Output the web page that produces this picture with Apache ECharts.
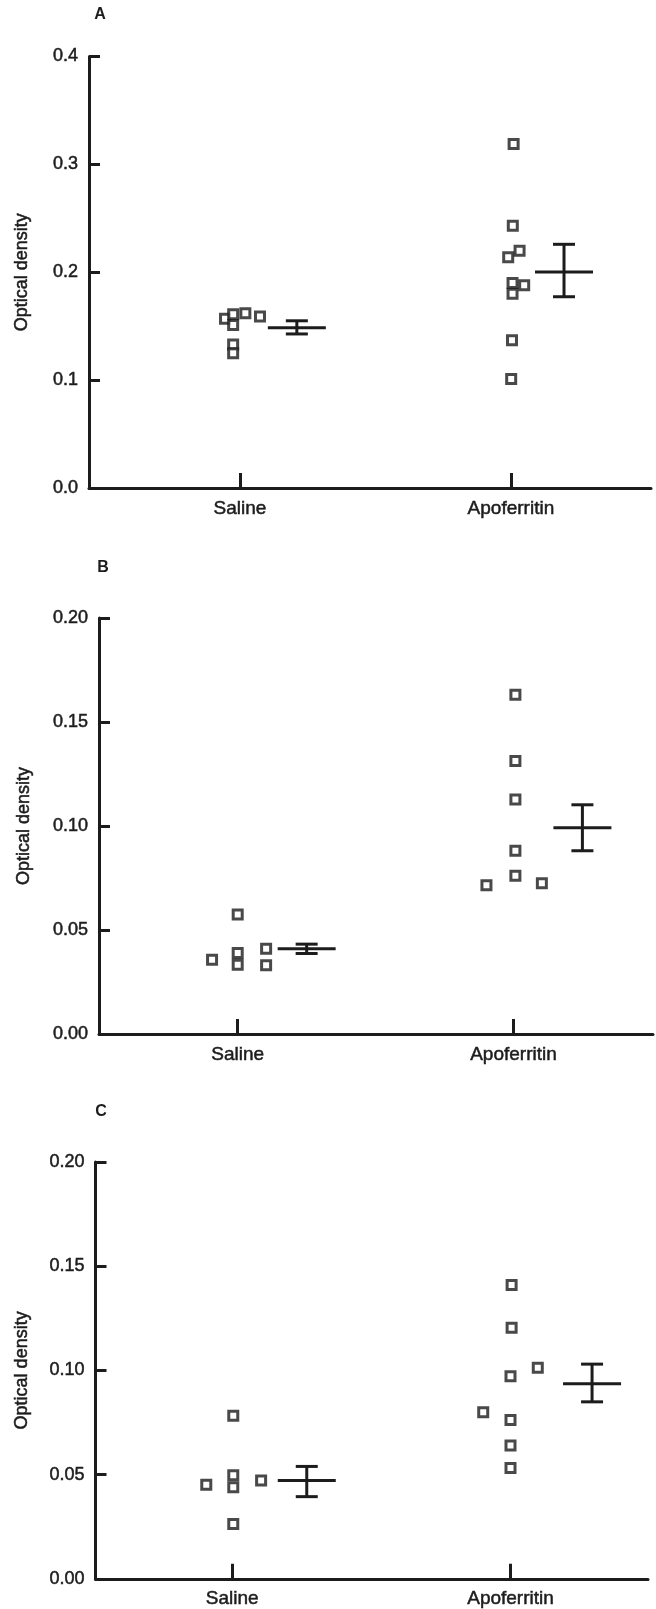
<!DOCTYPE html>
<html>
<head>
<meta charset="utf-8">
<script src="https://cdn.jsdelivr.net/npm/echarts@6/dist/echarts.min.js"></script>
<style>
html,body{margin:0;padding:0;background:#fff;}
#chart{width:656px;height:1609px;}
</style>
</head>
<body>
<div id="chart"></div>
<script>
// ---- data ----
const categories = ['Saline', 'Apoferritin'];   // placed at x = 1 and x = 2
const panelLetters = ['A', 'B', 'C'];
const yTicksA = [0.0, 0.1, 0.2, 0.3, 0.4];
const yTicksBC = [0.00, 0.05, 0.10, 0.15, 0.20];

// individual observations: [category position + jitter, optical density]
const salineA = [[0.945,0.157],[0.975,0.161],[1.020,0.162],[1.074,0.159],[0.975,0.151],[0.975,0.133],[0.975,0.125]];
const apoA = [[2.010,0.319],[2.007,0.243],[2.032,0.220],[1.990,0.214],[2.006,0.190],[2.049,0.188],[2.006,0.180],[2.004,0.137],[2.001,0.101]];
// mean ± SEM: [position, mean, low, high]
const statsA = [[1.210,0.1486,0.1428,0.1550],[2.196,0.2002,0.1773,0.2259]];

const salineB = [[0.907,0.0357],[1.000,0.0575],[1.000,0.0390],[1.000,0.0333],[1.103,0.0410],[1.103,0.0330]];
const apoB = [[2.007,0.1631],[2.007,0.1313],[2.007,0.1127],[2.007,0.0881],[2.007,0.0761],[1.902,0.0715],[2.103,0.0725]];
const statsB = [[1.250,0.0410,0.0387,0.0432],[2.250,0.0992,0.0881,0.1102]];

const salineC = [[0.907,0.0451],[1.004,0.0782],[1.004,0.0497],[1.004,0.0439],[1.104,0.0472],[1.004,0.0263]];
const apoC = [[2.004,0.1410],[2.004,0.1204],[2.098,0.1013],[2.000,0.0972],[1.902,0.0799],[2.000,0.0762],[2.000,0.0640],[2.000,0.0531]];
const statsC = [[1.268,0.0472,0.0394,0.0539],[2.293,0.0936,0.0849,0.1030]];

// ---- layout / style ----
const INK = '#1c1c1c';
const FONT = '"Liberation Sans", Arial, Helvetica, sans-serif';
const TXT = {color:INK, fontFamily:FONT, textBorderColor:INK, textBorderWidth:0.5};
const panels = [
  {grid:{left:89, top:56.5, width:562, height:431.5}, xmin:0.443, xmax:2.517, ticks:yTicksA, dec:1, nameGap:58,
   pts:[salineA, apoA], stats:statsA, letter:{x:100, y:15}},
  {grid:{left:99, top:618, width:554, height:416}, xmin:0.497, xmax:2.506, ticks:yTicksBC, dec:2, nameGap:66,
   pts:[salineB, apoB], stats:statsB, letter:{x:103, y:568}},
  {grid:{left:95.5, top:1162, width:552.5, height:418.5}, xmin:0.509, xmax:2.494, ticks:yTicksBC, dec:2, nameGap:64,
   pts:[salineC, apoC], stats:statsC, letter:{x:101, y:1112}}
];

const grids = [], xAxes = [], yAxes = [], series = [], graphics = [];
panels.forEach((p, i) => {
  grids.push(p.grid);
  const tmin = p.ticks[0], tmax = p.ticks[p.ticks.length - 1];
  xAxes.push({
    type:'value', gridIndex:i, min:p.xmin, max:p.xmax,
    axisLine:{show:true, lineStyle:{color:INK, width:3}},
    axisTick:{show:true, inside:true, length:15, lineStyle:{color:INK, width:3}, customValues:[1,2]},
    axisLabel:Object.assign({show:true, customValues:[1,2], margin:11, fontSize:19,
      formatter:(v) => categories[Math.round(v) - 1] || ''}, TXT),
    splitLine:{show:false}
  });
  yAxes.push({
    type:'value', gridIndex:i, min:tmin, max:tmax, interval:p.ticks[1] - p.ticks[0],
    name:'Optical density', nameLocation:'middle', nameGap:p.nameGap, nameRotate:90,
    nameTextStyle:Object.assign({fontSize:18}, TXT),
    axisLine:{show:true, lineStyle:{color:INK, width:3}},
    axisTick:{show:true, inside:true, length:11, lineStyle:{color:INK, width:3}},
    axisLabel:Object.assign({fontSize:18, margin:11, formatter:(v) => v.toFixed(p.dec)}, TXT),
    splitLine:{show:false}
  });
  p.pts.forEach(arr => {
    series.push({
      type:'scatter', xAxisIndex:i, yAxisIndex:i, data:arr, symbol:'rect', symbolSize:9,
      itemStyle:{color:'#fff', borderColor:INK, borderWidth:3}, silent:true, z:3
    });
  });
  series.push({
    type:'custom', xAxisIndex:i, yAxisIndex:i, data:p.stats, silent:true, z:2,
    renderItem:(params, api) => {
      const x = api.value(0);
      const pm = api.coord([x, api.value(1)]);
      const pl = api.coord([x, api.value(2)]);
      const ph = api.coord([x, api.value(3)]);
      const st = {stroke:INK, lineWidth:3};
      const hw = 29, cw = 11;
      return {type:'group', children:[
        {type:'line', shape:{x1:pm[0]-hw, y1:pm[1], x2:pm[0]+hw, y2:pm[1]}, style:st},
        {type:'line', shape:{x1:pl[0], y1:pl[1], x2:ph[0], y2:ph[1]}, style:st},
        {type:'line', shape:{x1:ph[0]-cw, y1:ph[1], x2:ph[0]+cw, y2:ph[1]}, style:st},
        {type:'line', shape:{x1:pl[0]-cw, y1:pl[1], x2:pl[0]+cw, y2:pl[1]}, style:st}
      ]};
    }
  });
  graphics.push({type:'text', x:p.letter.x, y:p.letter.y,
    style:{text:panelLetters[i], fill:INK, font:'bold 16px ' + FONT, textAlign:'center', textVerticalAlign:'middle'}});
});

const chart = echarts.init(document.getElementById('chart'), null, {renderer:'canvas'});
chart.setOption({
  animation:false,
  backgroundColor:'#fff',
  grid:grids, xAxis:xAxes, yAxis:yAxes, series:series, graphic:graphics
});
</script>
</body>
</html>
